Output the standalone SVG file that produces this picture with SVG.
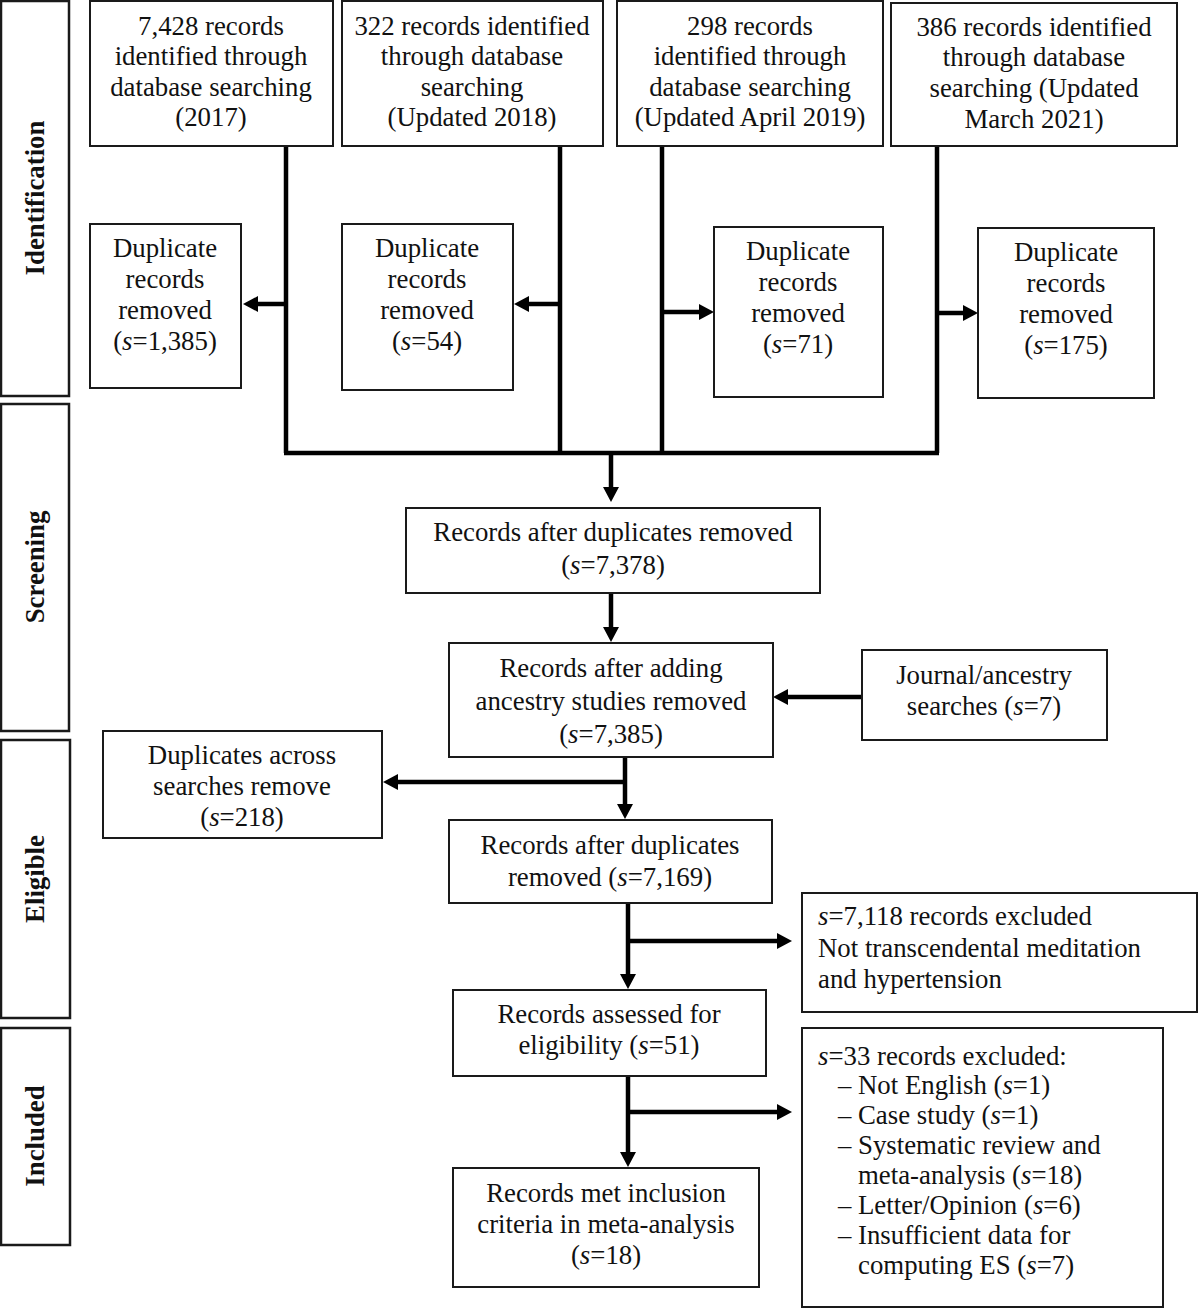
<svg xmlns="http://www.w3.org/2000/svg" width="1200" height="1309" viewBox="0 0 1200 1309">
<defs>
<style>
.box{fill:#fff;stroke:#1a1a1a;stroke-width:2}
.side{fill:#fff;stroke:#1a1a1a;stroke-width:2.5}
.t{font-family:"Liberation Serif","Times New Roman",serif;font-size:26.8px;fill:#111;text-anchor:middle}
.l{font-family:"Liberation Serif","Times New Roman",serif;font-size:26.8px;fill:#111}
.s{font-family:"Liberation Serif","Times New Roman",serif;font-size:26.8px;font-weight:bold;fill:#111;text-anchor:middle}
.c{fill:none;stroke:#000;stroke-width:4.5}
.i{font-style:italic}
</style>
<marker id="ah" markerUnits="userSpaceOnUse" markerWidth="15" markerHeight="16" viewBox="0 0 15 16" refX="7" refY="8" orient="auto">
<path d="M0,0 L15,8 L0,16 z" fill="#000"/>
</marker>
</defs>
<rect width="1200" height="1309" fill="#fff"/>

<g id="phase-identification"><rect class="side" x="1" y="1" width="68" height="395"/><text class="s" transform="translate(44,198) rotate(-90)">Identification</text></g>
<g id="phase-screening"><rect class="side" x="1" y="404" width="68" height="327"/><text class="s" transform="translate(44,567) rotate(-90)">Screening</text></g>
<g id="phase-eligible"><rect class="side" x="1" y="740" width="69" height="278"/><text class="s" transform="translate(44,879) rotate(-90)">Eligible</text></g>
<g id="phase-included"><rect class="side" x="1" y="1028" width="69" height="217"/><text class="s" transform="translate(44,1136) rotate(-90)">Included</text></g>

<g id="connectors">
<path class="c" d="M286,146 V453 M560,146 V453 M662,146 V453 M937,146 V453 M284,453 H939"/>
<path class="c" d="M611,453 V494" marker-end="url(#ah)"/>
<path class="c" d="M286,304 H251" marker-end="url(#ah)"/>
<path class="c" d="M560,304 H522" marker-end="url(#ah)"/>
<path class="c" d="M662,312 H706" marker-end="url(#ah)"/>
<path class="c" d="M937,313 H970" marker-end="url(#ah)"/>
<path class="c" d="M611,593 V634" marker-end="url(#ah)"/>
<path class="c" d="M862,697 H781" marker-end="url(#ah)"/>
<path class="c" d="M625,757 V811" marker-end="url(#ah)"/>
<path class="c" d="M627,782 H391" marker-end="url(#ah)"/>
<path class="c" d="M628,903 V981" marker-end="url(#ah)"/>
<path class="c" d="M626,941 H784" marker-end="url(#ah)"/>
<path class="c" d="M628,1076 V1159" marker-end="url(#ah)"/>
<path class="c" d="M626,1112 H784" marker-end="url(#ah)"/>
</g>

<g id="search-2017"><rect class="box" x="90" y="1" width="243" height="145"/>
<text class="t"><tspan x="211" y="35">7,428 records</tspan><tspan x="211" y="65">identified through</tspan><tspan x="211" y="96">database searching</tspan><tspan x="211" y="126">(2017)</tspan></text></g>
<g id="search-2018"><rect class="box" x="342" y="1" width="261" height="145"/>
<text class="t"><tspan x="472" y="35">322 records identified</tspan><tspan x="472" y="65">through database</tspan><tspan x="472" y="96">searching</tspan><tspan x="472" y="126">(Updated 2018)</tspan></text></g>
<g id="search-2019"><rect class="box" x="617" y="1" width="266" height="145"/>
<text class="t"><tspan x="750" y="35">298 records</tspan><tspan x="750" y="65">identified through</tspan><tspan x="750" y="96">database searching</tspan><tspan x="750" y="126">(Updated April 2019)</tspan></text></g>
<g id="search-2021"><rect class="box" x="891" y="3" width="286" height="143"/>
<text class="t"><tspan x="1034" y="36">386 records identified</tspan><tspan x="1034" y="66">through database</tspan><tspan x="1034" y="97">searching (Updated</tspan><tspan x="1034" y="128">March 2021)</tspan></text></g>

<g id="dup-2017"><rect class="box" x="90" y="224" width="151" height="164"/>
<text class="t"><tspan x="165" y="257">Duplicate</tspan><tspan x="165" y="288">records</tspan><tspan x="165" y="319">removed</tspan><tspan x="165" y="350">(<tspan class="i">s</tspan>=1,385)</tspan></text></g>
<g id="dup-2018"><rect class="box" x="342" y="224" width="171" height="166"/>
<text class="t"><tspan x="427" y="257">Duplicate</tspan><tspan x="427" y="288">records</tspan><tspan x="427" y="319">removed</tspan><tspan x="427" y="350">(<tspan class="i">s</tspan>=54)</tspan></text></g>
<g id="dup-2019"><rect class="box" x="714" y="227" width="169" height="170"/>
<text class="t"><tspan x="798" y="260">Duplicate</tspan><tspan x="798" y="291">records</tspan><tspan x="798" y="322">removed</tspan><tspan x="798" y="353">(<tspan class="i">s</tspan>=71)</tspan></text></g>
<g id="dup-2021"><rect class="box" x="978" y="228" width="176" height="170"/>
<text class="t"><tspan x="1066" y="261">Duplicate</tspan><tspan x="1066" y="292">records</tspan><tspan x="1066" y="323">removed</tspan><tspan x="1066" y="354">(<tspan class="i">s</tspan>=175)</tspan></text></g>

<g id="after-dup"><rect class="box" x="406" y="508" width="414" height="85"/>
<text class="t"><tspan x="613" y="541">Records after duplicates removed</tspan><tspan x="613" y="574">(<tspan class="i">s</tspan>=7,378)</tspan></text></g>
<g id="after-ancestry"><rect class="box" x="449" y="643" width="324" height="114"/>
<text class="t"><tspan x="611" y="677">Records after adding</tspan><tspan x="611" y="710">ancestry studies removed</tspan><tspan x="611" y="743">(<tspan class="i">s</tspan>=7,385)</tspan></text></g>
<g id="journal"><rect class="box" x="862" y="650" width="245" height="90"/>
<text class="t"><tspan x="984" y="684">Journal/ancestry</tspan><tspan x="984" y="715">searches (<tspan class="i">s</tspan>=7)</tspan></text></g>
<g id="dup-across"><rect class="box" x="103" y="731" width="279" height="107"/>
<text class="t"><tspan x="242" y="764">Duplicates across</tspan><tspan x="242" y="795">searches remove</tspan><tspan x="242" y="826">(<tspan class="i">s</tspan>=218)</tspan></text></g>
<g id="after-dup2"><rect class="box" x="449" y="820" width="323" height="83"/>
<text class="t"><tspan x="610" y="854">Records after duplicates</tspan><tspan x="610" y="886">removed (<tspan class="i">s</tspan>=7,169)</tspan></text></g>
<g id="excluded-7118"><rect class="box" x="802" y="893" width="395" height="119"/>
<text class="l"><tspan x="818" y="925"><tspan class="i">s</tspan>=7,118 records excluded</tspan><tspan x="818" y="957">Not transcendental meditation</tspan><tspan x="818" y="988">and hypertension</tspan></text></g>
<g id="assessed"><rect class="box" x="453" y="990" width="313" height="86"/>
<text class="t"><tspan x="609" y="1023">Records assessed for</tspan><tspan x="609" y="1054">eligibility (<tspan class="i">s</tspan>=51)</tspan></text></g>
<g id="included"><rect class="box" x="453" y="1168" width="306" height="119"/>
<text class="t"><tspan x="606" y="1202">Records met inclusion</tspan><tspan x="606" y="1233">criteria in meta-analysis</tspan><tspan x="606" y="1264">(<tspan class="i">s</tspan>=18)</tspan></text></g>
<g id="excluded-33"><rect class="box" x="802" y="1028" width="361" height="279"/>
<text class="l"><tspan x="818" y="1065"><tspan class="i">s</tspan>=33 records excluded:</tspan>
<tspan x="838" y="1094">–</tspan><tspan x="858" y="1094">Not English (<tspan class="i">s</tspan>=1)</tspan>
<tspan x="838" y="1124">–</tspan><tspan x="858" y="1124">Case study (<tspan class="i">s</tspan>=1)</tspan>
<tspan x="838" y="1154">–</tspan><tspan x="858" y="1154">Systematic review and</tspan>
<tspan x="858" y="1184">meta-analysis (<tspan class="i">s</tspan>=18)</tspan>
<tspan x="838" y="1214">–</tspan><tspan x="858" y="1214">Letter/Opinion (<tspan class="i">s</tspan>=6)</tspan>
<tspan x="838" y="1244">–</tspan><tspan x="858" y="1244">Insufficient data for</tspan>
<tspan x="858" y="1274">computing ES (<tspan class="i">s</tspan>=7)</tspan></text></g>
</svg>
